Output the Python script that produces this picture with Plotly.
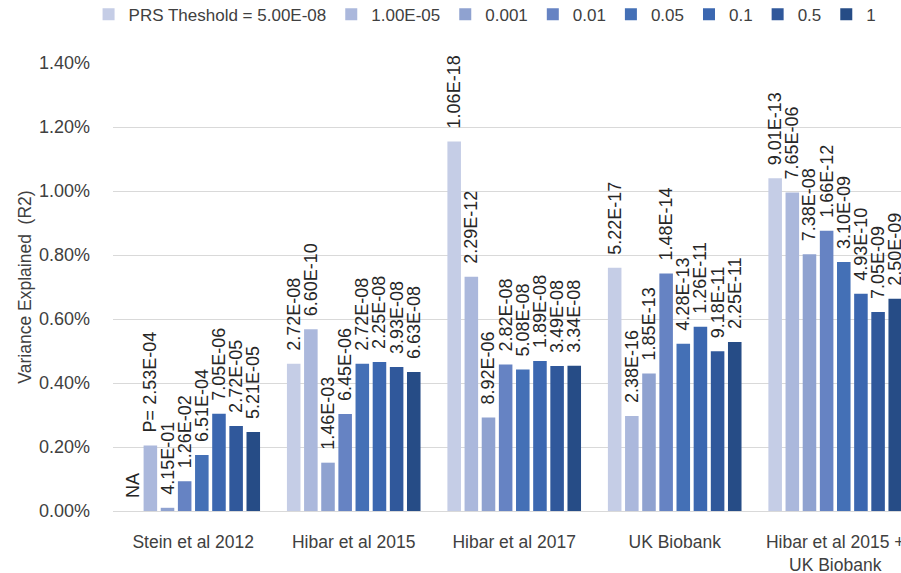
import plotly.graph_objects as go

categories = ["Stein et al 2012", "Hibar et al 2015", "Hibar et al 2017",
              "UK Biobank", "Hibar et al 2015 +<br>UK Biobank"]
thresholds = ["PRS Theshold = 5.00E-08", "1.00E-05", "0.001", "0.01",
              "0.05", "0.1", "0.5", "1"]

r2_5e08 = [0.0, 0.460, 1.155, 0.760, 1.040]
r2_1e05 = [0.205, 0.568, 0.732, 0.297, 0.995]
r2_0001 = [0.010, 0.151, 0.292, 0.430, 0.802]
r2_001 = [0.093, 0.303, 0.458, 0.742, 0.876]
r2_005 = [0.175, 0.460, 0.442, 0.523, 0.778]
r2_01 = [0.304, 0.466, 0.469, 0.576, 0.679]
r2_05 = [0.266, 0.450, 0.453, 0.499, 0.622]
r2_1 = [0.247, 0.434, 0.454, 0.528, 0.663]

p_5e08 = ["NA", "2.72E-08", "1.06E-18", "5.22E-17", "9.01E-13"]
p_1e05 = ["P= 2.53E-04", "6.60E-10", "2.29E-12", "2.38E-16", "7.65E-06"]
p_0001 = ["4.15E-01", "1.46E-03", "8.92E-06", "1.85E-13", "7.38E-08"]
p_001 = ["1.26E-02", "6.45E-06", "2.82E-08", "1.48E-14", "1.66E-12"]
p_005 = ["6.51E-04", "2.72E-08", "5.08E-08", "4.28E-13", "3.10E-09"]
p_01 = ["7.05E-06", "2.25E-08", "1.89E-08", "1.26E-11", "4.93E-10"]
p_05 = ["2.72E-05", "3.93E-08", "3.49E-08", "9.18E-11", "7.05E-09"]
p_1 = ["5.21E-05", "6.63E-08", "3.34E-08", "2.25E-11", "2.50E-09"]

colors = ["#c5cde6", "#abb8dc", "#8fa2d0", "#6683c3",
          "#4470b6", "#3b67b0", "#30589b", "#264c86"]

series = [r2_5e08, r2_1e05, r2_0001, r2_001, r2_005, r2_01, r2_05, r2_1]
labels = [p_5e08, p_1e05, p_0001, p_001, p_005, p_01, p_05, p_1]

FONT = "Liberation Sans, Arial, sans-serif"
pad = "\u00a0\u00a0"

fig = go.Figure()
for name, vals, labs, col in zip(thresholds, series, labels, colors):
    fig.add_trace(go.Bar(
        name=name, x=categories, y=vals,
        text=[pad + t for t in labs],
        textposition="outside", textangle=-90,
        textfont=dict(family=FONT, size=18, color="#262626"),
        constraintext="none", cliponaxis=False,
        marker=dict(color=col, line=dict(width=0)),
    ))

fig.update_layout(
    width=901, height=573,
    margin=dict(l=113, r=0, t=63, b=62, autoexpand=False),
    paper_bgcolor="white", plot_bgcolor="white",
    barmode="group", bargap=0.145, bargroupgap=0.21,
    font=dict(family=FONT, size=17, color="#404040"),
    showlegend=True,
    legend=dict(orientation="h", x=-0.031, xanchor="left",
                y=1.148, yanchor="top",
                font=dict(family=FONT, size=17, color="#404040"),
                itemwidth=30, tracegroupgap=0, traceorder="normal"),
)
fig.update_xaxes(
    type="category", range=[-0.5, 4.41], automargin=False,
    showgrid=False, showline=True, linecolor="#d9d9d9", linewidth=1,
    ticks="", tickfont=dict(family=FONT, size=17.5, color="#404040"),
    ticklabelstandoff=15,
)
fig.update_yaxes(
    range=[0, 1.4], dtick=0.2, tickformat=".2f", ticksuffix="%",
    automargin=False,
    showgrid=True, gridcolor="#d9d9d9", gridwidth=1,
    zeroline=False, showline=False, ticks="",
    tickfont=dict(family=FONT, size=18, color="#404040"),
    ticklabelstandoff=22,
    title=dict(text="Variance Explained\u00a0 (R2)", standoff=2,
               font=dict(family=FONT, size=17.5, color="#404040")),
)

fig.write_html("out.html",
               config={"displayModeBar": False},
               post_script="document.body.style.margin='0';")
